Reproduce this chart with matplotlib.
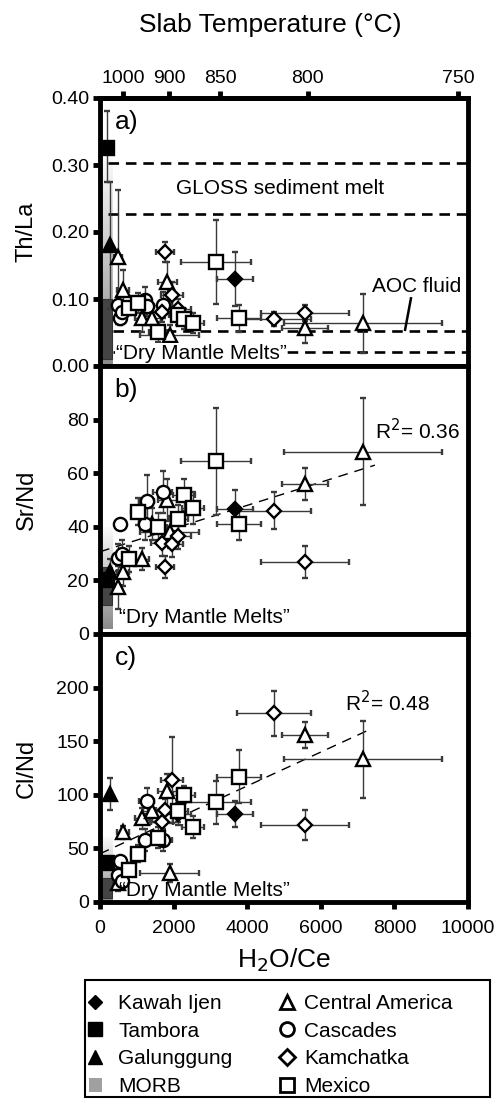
import numpy as np
import matplotlib
matplotlib.use('Agg')
import matplotlib.pyplot as plt
from matplotlib.patches import Rectangle, Patch
from matplotlib.lines import Line2D
from matplotlib.colors import LinearSegmentedColormap

plt.rcParams['font.family'] = ['Liberation Sans', 'DejaVu Sans']

# ---- data ----
# Central America (open triangles)
ca_x = [490, 625, 1140, 1410, 1830, 1900, 5570, 7150]
ca_xerr = [120, 150, 200, 250, 250, 800, 620, 2150]
ca_thla = [0.163, 0.113, 0.071, 0.071, 0.125, 0.046, 0.057, 0.064]
ca_thla_err = [0.10, 0.03, 0.02, 0.02, 0.03, 0.015, 0.022, 0.044]
ca_srnd = [17.5, 23, 28, 41, 50, 38, 56, 68]
ca_srnd_err = [8, 5, 4, 6, 8, 6, 6, 20]
ca_clnd = [18, 65, 78, 85, 104, 27, 156, 133]
ca_clnd_err = [8, 6, 10, 10, 15, 8, 12, 36]

# Cascades (open circles)
cas_x = [490, 540, 600, 1220, 1270, 1700]
cas_xerr = [100, 0, 120, 150, 200, 250]
cas_thla = [0.091, 0.071, 0.081, 0.098, 0.090, 0.091]
cas_thla_err = [0.012, 0.010, 0.010, 0.020, 0.015, 0.020]
cas_srnd = [28.5, 41, 30, 41, 49.5, 53]
cas_srnd_err = [5, 0, 5, 6, 10, 8]
cas_clnd = [25, 38, 20, 58, 94, 58]
cas_clnd_err = [6, 0, 5, 10, 12, 10]

# Kamchatka (open diamonds)
kam_x = [1680, 1770, 1960, 2120, 4730, 5570]
kam_xerr = [300, 250, 300, 350, 1000, 1200]
kam_thla = [0.080, 0.170, 0.106, 0.085, 0.070, 0.079]
kam_thla_err = [0.015, 0.015, 0.020, 0.015, 0.010, 0.012]
kam_srnd = [34, 25, 33.6, 36.6, 46, 27]
kam_srnd_err = [5, 4, 5, 5, 7, 6]
kam_clnd = [75, 86, 114, 82, 176, 72]
kam_clnd_err = [10, 10, 40, 10, 21, 14]

# Mexico (open squares)
mex_x = [790, 1030, 1580, 2130, 2280, 2530, 3150, 3780]
mex_xerr = [150, 200, 250, 250, 300, 300, 950, 600]
mex_thla = [0.086, 0.094, 0.051, 0.076, 0.070, 0.064, 0.155, 0.071]
mex_thla_err = [0.010, 0.015, 0.015, 0.015, 0.015, 0.015, 0.063, 0.020]
mex_srnd = [28, 45.6, 40, 43, 52, 47, 64.5, 41]
mex_srnd_err = [5, 5, 5, 5, 6, 6, 20, 6]
mex_clnd = [30, 45, 60, 85, 100, 70, 93, 117]
mex_clnd_err = [6, 8, 10, 10, 8, 10, 20, 25]

# Kawah Ijen, Tambora, Galunggung (filled)
ki_x, ki_xerr = [3670], [480]
ki_thla, ki_thla_err = [0.13], [0.04]
ki_srnd, ki_srnd_err = [46.8], [7]
ki_clnd, ki_clnd_err = [82], [12]

tam_x, tam_xerr = [200], [0]
tam_thla, tam_thla_err = [0.325], [[0.05], [0.055]]
tam_srnd, tam_srnd_err = [20], [0]
tam_clnd, tam_clnd_err = [36], [0]

gal_x, gal_xerr = [270], [0]
gal_thla, gal_thla_err = [0.18], [0.095]
gal_srnd, gal_srnd_err = [23], [5]
gal_clnd, gal_clnd_err = [101], [15]

# MORB field: (gradient bottom, gradient top, dark box bottom, dark box top)
morb_xmax = 330
morb_a = [0.0, 0.31, 0.01, 0.10]
morb_b = [2, 40, 11, 25]
morb_c = [0, 60, 4, 22]

# reference fields in panel a
gloss_x = [220, 10000]
gloss_y = [0.227, 0.303]
aoc_x = [350, 10000]
aoc_y = [0.021, 0.052]

# regression lines
fit_b_x, fit_b_y = [0, 7470], [30.7, 63]
fit_c_x, fit_c_y = [0, 7400], [45, 162]

# slab temperature scale (top axis)
temp_labels = ['1000', '900', '850', '800', '750']
temp_pos = [625, 1875, 3260, 5650, 9730]

# ---- figure ----
W, H = 502, 1101
fig = plt.figure(figsize=(W / 100, H / 100), dpi=100)

left, width = 100 / W, 368 / W
ph = 268 / H
ax_a = fig.add_axes([left, 1 - 366 / H, width, ph])
ax_b = fig.add_axes([left, 1 - 634 / H, width, ph])
ax_c = fig.add_axes([left, 1 - 902 / H, width, ph])
axes = [ax_a, ax_b, ax_c]

ebkw = dict(ecolor='#3a3a3a', elinewidth=1.0, capsize=2, capthick=1.0, linestyle='none',
            markeredgewidth=1.7, markeredgecolor='black', zorder=5)

gray_cmap = LinearSegmentedColormap.from_list('morb', ['#8a8a8a', '#fbfbfb'])


def draw_morb(ax, m):
    grad = np.linspace(0, 1, 256).reshape(-1, 1)
    ax.imshow(grad, cmap=gray_cmap, extent=[0, morb_xmax, m[0], m[1]], origin='lower',
              aspect='auto', zorder=1)
    ax.add_patch(Rectangle((0, m[2]), morb_xmax, m[3] - m[2], facecolor='#444444',
                           edgecolor='#333333', lw=0.8, zorder=2))


def draw_field(ax, xs, ys):
    # open on the left: top, bottom and a right edge only
    kw = dict(color='black', lw=1.9, linestyle=(0, (4, 2.6)), zorder=3, clip_on=False)
    ax.plot(xs, [ys[1], ys[1]], **kw)
    ax.plot(xs, [ys[0], ys[0]], **kw)
    ax.plot([xs[1], xs[1]], ys, **kw)


def draw_groups(ax, key):
    groups = [
        (ca_x, ca_xerr, {'a': (ca_thla, ca_thla_err), 'b': (ca_srnd, ca_srnd_err), 'c': (ca_clnd, ca_clnd_err)}, '^', 'white'),
        (cas_x, cas_xerr, {'a': (cas_thla, cas_thla_err), 'b': (cas_srnd, cas_srnd_err), 'c': (cas_clnd, cas_clnd_err)}, 'o', 'white'),
        (kam_x, kam_xerr, {'a': (kam_thla, kam_thla_err), 'b': (kam_srnd, kam_srnd_err), 'c': (kam_clnd, kam_clnd_err)}, 'D', 'white'),
        (mex_x, mex_xerr, {'a': (mex_thla, mex_thla_err), 'b': (mex_srnd, mex_srnd_err), 'c': (mex_clnd, mex_clnd_err)}, 's', 'white'),
        (ki_x, ki_xerr, {'a': (ki_thla, ki_thla_err), 'b': (ki_srnd, ki_srnd_err), 'c': (ki_clnd, ki_clnd_err)}, 'D', 'black'),
        (tam_x, tam_xerr, {'a': (tam_thla, tam_thla_err), 'b': (tam_srnd, tam_srnd_err), 'c': (tam_clnd, tam_clnd_err)}, 's', 'black'),
        (gal_x, gal_xerr, {'a': (gal_thla, gal_thla_err), 'b': (gal_srnd, gal_srnd_err), 'c': (gal_clnd, gal_clnd_err)}, '^', 'black'),
    ]
    for x, xe, ys, mk, fc in groups:
        y, ye = ys[key]
        ms = 7.5 if mk == 'D' else 9.5
        ax.errorbar(x, y, xerr=xe, yerr=ye, marker=mk, markerfacecolor=fc, markersize=ms, **ebkw)


# panel a
draw_morb(ax_a, morb_a)
draw_field(ax_a, gloss_x, gloss_y)
draw_field(ax_a, aoc_x, aoc_y)
draw_groups(ax_a, 'a')
ax_a.text(4900, 0.265, 'GLOSS sediment melt', ha='center', va='center', fontsize=15)
ax_a.text(8610, 0.118, 'AOC fluid', ha='center', va='center', fontsize=15)
ax_a.plot([8290, 8450], [0.054, 0.101], color='black', lw=1.8, zorder=6)
ax_a.text(430, 0.019, '\u201cDry Mantle Melts\u201d', ha='left', va='center', fontsize=15, zorder=7,
          bbox=dict(facecolor='white', edgecolor='none', pad=0.5))
ax_a.set_ylim(0, 0.40)
ax_a.set_yticks([0, 0.1, 0.2, 0.3, 0.4])
ax_a.set_yticklabels(['0.00', '0.10', '0.20', '0.30', '0.40'])
ax_a.set_ylabel('Th/La', fontsize=17)

# panel b
draw_morb(ax_b, morb_b)
ax_b.plot(fit_b_x, fit_b_y, color='black', lw=1.0, linestyle=(0, (7, 5)), zorder=4)
draw_groups(ax_b, 'b')
ax_b.text(7470, 76, 'R$^2$= 0.36', ha='left', va='center', fontsize=15)
ax_b.text(520, 6, '\u201cDry Mantle Melts\u201d', ha='left', va='center', fontsize=15, zorder=7)
ax_b.set_ylim(0, 100)
ax_b.set_yticks([0, 20, 40, 60, 80])
ax_b.set_ylabel('Sr/Nd', fontsize=17)

# panel c
draw_morb(ax_c, morb_c)
ax_c.plot(fit_c_x, fit_c_y, color='black', lw=1.0, linestyle=(0, (7, 5)), zorder=4)
draw_groups(ax_c, 'c')
ax_c.text(6660, 186, 'R$^2$= 0.48', ha='left', va='center', fontsize=15)
ax_c.text(520, 11, '\u201cDry Mantle Melts\u201d', ha='left', va='center', fontsize=15, zorder=7)
ax_c.set_ylim(0, 250)
ax_c.set_yticks([0, 50, 100, 150, 200])
ax_c.set_ylabel('Cl/Nd', fontsize=17)
ax_c.set_xlabel('H$_2$O/Ce', fontsize=19, labelpad=7)
ax_c.set_xticks([0, 2000, 4000, 6000, 8000, 10000])

for ax, lab in zip(axes, ['a)', 'b)', 'c)']):
    ax.set_xlim(0, 10000)
    for s in ax.spines.values():
        s.set_linewidth(3.5)
    ax.tick_params(axis='y', direction='out', length=5, width=3.5, labelsize=14, pad=3)
    ax.tick_params(axis='x', direction='out', length=5, width=3.5, labelsize=14, pad=8)
    ax.yaxis.set_label_coords(-0.17, 0.5)
    ax.text(0.04, 0.91, lab, transform=ax.transAxes, ha='left', va='center', fontsize=19)
    if ax is not ax_c:
        ax.tick_params(axis='x', bottom=False, labelbottom=False)

# top temperature axis
top = ax_a.secondary_xaxis('top')
top.set_xticks(temp_pos)
top.set_xticklabels(temp_labels)
top.tick_params(direction='out', length=5, width=3.5, labelsize=14, pad=3)
for s in top.spines.values():
    s.set_linewidth(3.5)
fig.text(270 / W, 1 - 25 / H, 'Slab Temperature (\u00b0C)', ha='center', va='center', fontsize=19)

# legend: two columns inside a hand-drawn frame
col1_labels = ['Kawah Ijen', 'Tambora', 'Galunggung', 'MORB']
col2_labels = ['Central America', 'Cascades', 'Kamchatka', 'Mexico']
col1_handles = [
    Line2D([], [], marker='D', color='black', markerfacecolor='black', linestyle='none', markersize=7.5),
    Line2D([], [], marker='s', color='black', markerfacecolor='black', linestyle='none', markersize=10),
    Line2D([], [], marker='^', color='black', markerfacecolor='black', linestyle='none', markersize=10),
    Patch(facecolor='#a0a0a0', edgecolor='none'),
]
col2_handles = [
    Line2D([], [], marker='^', color='black', markerfacecolor='white', markeredgewidth=2, linestyle='none', markersize=10),
    Line2D([], [], marker='o', color='black', markerfacecolor='white', markeredgewidth=2, linestyle='none', markersize=10),
    Line2D([], [], marker='D', color='black', markerfacecolor='white', markeredgewidth=2, linestyle='none', markersize=8),
    Line2D([], [], marker='s', color='black', markerfacecolor='white', markeredgewidth=2, linestyle='none', markersize=10),
]
legkw = dict(loc='upper left', fontsize=15, frameon=False, handlelength=0.6, labelspacing=0.42,
             borderpad=0, borderaxespad=0)
fig.legend(col1_handles, col1_labels, bbox_to_anchor=(89 / W, 1 - 994 / H), handletextpad=0.8, **legkw)
fig.legend(col2_handles, col2_labels, bbox_to_anchor=(281 / W, 1 - 994 / H), handletextpad=0.5, **legkw)
fig.add_artist(Rectangle((85 / W, 1 - 1097 / H), 405 / W, 117 / H, transform=fig.transFigure,
                         fill=False, edgecolor='black', lw=1.5))

fig.savefig('out.png', dpi=100)
